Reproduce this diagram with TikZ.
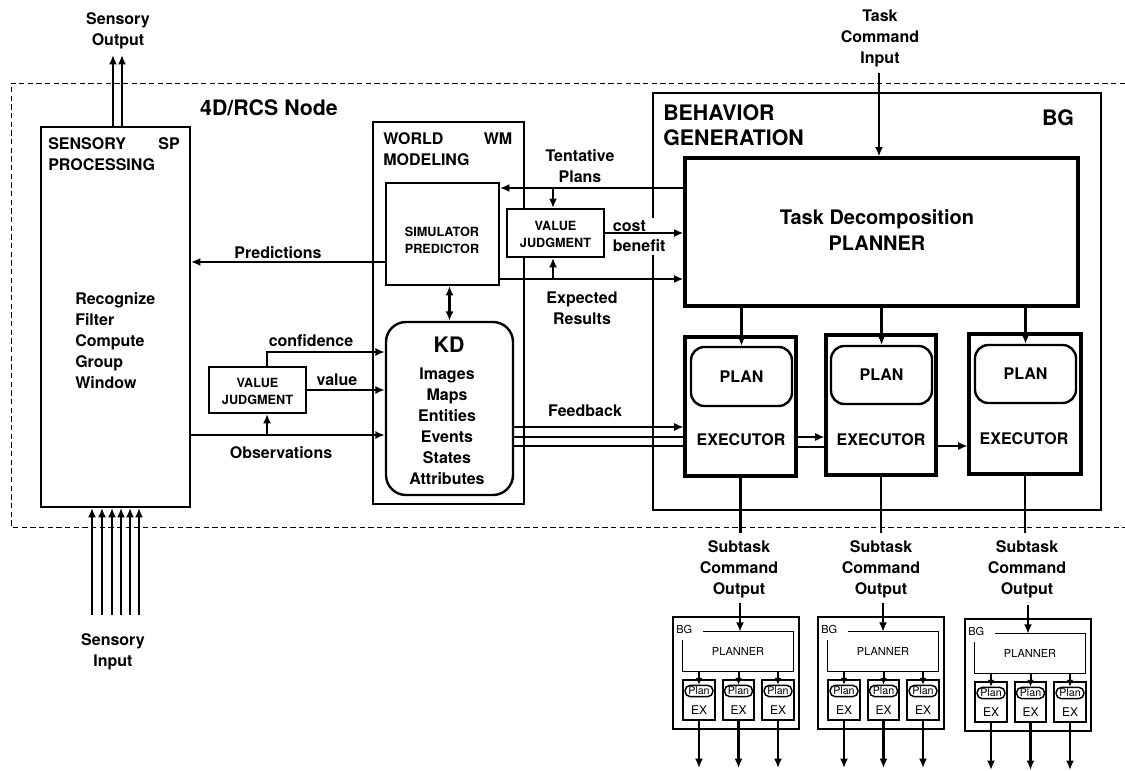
\documentclass[tikz,border=0pt]{standalone}
\usepackage{fontspec}
\setmainfont{TeX Gyre Heros}
\usetikzlibrary{arrows.meta,fit}
\newcommand\minibg[4]{%
\begin{scope}[shift={(#2,#3)}]
 \node[mbox,fit={(0,0) (126,112)}] (#1o) {};
 \node[inner sep=0pt,fit={(10,15) (120,54)}] (#1p) {};
 \node[tiny] (#1pt) at (#1p.center) {PLANNER};
 \draw[line width=1.1pt] ([xshift=15pt]#1p.north west) -- (#1p.north east) -- (#1p.south east) -- (#1p.south west) -- ([yshift=-6pt]#1p.north west);
 \node[tiny,anchor=west] (#1bg) at (3,12) {BG};
 \coordinate (#1in) at (#4,-14);
 \draw[arr] (#1in) -- (#1in |- #1p.north);
 \node[mbox,fit={(10,63) (42,103)}] (#1ea) {};
 \node[mbox,fit={(50,63) (81,103)}] (#1eb) {};
 \node[mbox,fit={(89,63) (121,103)}] (#1ec) {};
 \node[oval] (#1pa) at (26,74) {Plan};
 \node[oval] (#1pb) at (65.5,74) {Plan};
 \node[oval] (#1pc) at (105,74) {Plan};
 \node[tinyb] (#1xa) at (26,93) {EX};
 \node[tinyb] (#1xb) at (65.5,93) {EX};
 \node[tinyb] (#1xc) at (105,93) {EX};
 \draw[marr] (#1pa.north |- #1p.south) -- (#1pa.north);
 \draw[marr] (#1pb.north |- #1p.south) -- (#1pb.north);
 \draw[marr] (#1pc.north |- #1p.south) -- (#1pc.north);
 \coordinate (#1oa) at (26,151);
 \coordinate (#1ob) at (65.5,151);
 \coordinate (#1oc) at (105,151);
 \draw[arr] (#1ea.south) -- (#1oa);
 \draw[arr] (#1eb.south) -- (#1ob);
 \draw[arr] (#1ec.south) -- (#1oc);
\end{scope}}
\begin{document}
\begin{tikzpicture}[x=0.75pt,y=-0.75pt,
  lbl/.style={font=\fontsize{12}{15.75}\selectfont\bfseries,align=center,inner sep=0pt},
  lbll/.style={lbl,align=left},
  big/.style={font=\fontsize{16}{18.75}\selectfont\bfseries,align=left,inner sep=0pt},
  small/.style={font=\fontsize{9.5}{12.75}\selectfont\bfseries,align=center,inner sep=0pt},
  tiny/.style={font=\fontsize{8.25}{10}\selectfont,inner sep=0pt},
  tinyb/.style={font=\fontsize{9}{10}\selectfont,inner sep=0pt},
  box/.style={draw,line width=1.5pt,inner sep=0pt},
  tbox/.style={draw,line width=2.3pt,inner sep=0pt},
  mbox/.style={draw,line width=1.2pt,inner sep=0pt},
  rbox/.style={draw,line width=1.8pt,rounded corners=10pt,inner sep=0pt},
  oval/.style={draw,line width=1.1pt,rounded corners=4pt,minimum width=21pt,minimum height=8.5pt,inner sep=0pt,font=\fontsize{8}{9}\selectfont},
  arr/.style={line width=1.7pt,-{Latex[length=7pt,width=6pt]}},
  marr/.style={line width=1.5pt,-{Latex[length=5pt,width=5pt]}},
  tarr/.style={line width=1.1pt,-{Latex[length=7pt,width=6pt]}},
  dbl/.style={line width=1.7pt,{Latex[length=7pt,width=6pt]}-{Latex[length=7pt,width=6pt]}},
  ln/.style={line width=1.7pt},
  tln/.style={line width=1.1pt}]
\useasboundingbox (0,0) rectangle (1125,771);
% dashed node frame
\draw[line width=0.7pt,dash pattern=on 4pt off 2.5pt] (1125,83) -- (11,83) -- (11,527) -- (1125,527);
\node[big,anchor=center] (rcs) at (269,108) {4D/RCS Node};

% Sensory processing
\node[box,fit={(41,127) (190,507)}] (sp) {};
\node[lbll,anchor=west] (sptitle) at (48,154.5) {SENSORY\\PROCESSING};
\node[lbl] (spabbr) at (169,144) {SP};
\node[lbll,anchor=west] (spfun) at (75,341) {Recognize\\Filter\\Compute\\Group\\Window};
\node[lbl] (sout) at (118,30.5) {Sensory\\Output};
\node[lbl] (sin) at (113,652) {Sensory\\Input};
\coordinate (so1) at (113,55);
\coordinate (so2) at (122,55);
\draw[arr] (so1 |- sp.north) -- (so1);
\draw[arr] (so2 |- sp.north) -- (so2);
\foreach \i/\x in {1/92,2/102,3/112,4/121,5/130,6/139}{
  \coordinate (si\i) at (\x,615);
  \draw[arr] (si\i) -- (si\i |- sp.south);
}

% World modeling
\node[box,fit={(373,122) (524,504)}] (wm) {};
\node[lbll,anchor=west] (wmtitle) at (383,149.5) {WORLD\\MODELING};
\node[lbl] (wmabbr) at (498,139) {WM};
\node[box,fill=white,fit={(386,183) (499,285)}] (sim) {};
\node[small] (simtxt) at (442,240.5) {SIMULATOR\\PREDICTOR};
\node[rbox,rounded corners=15pt,fit={(386,322) (513,495)}] (kd) {};
\node[big] (kdtitle) at (449,345) {KD};
\node[lbl] (kdlist) at (447,426) {Images\\Maps\\Entities\\Events\\States\\Attributes};
\draw[dbl] (kd.north |- sim.south) -- (kd.north);

% value judgment (WM/BG)
\node[box,fill=white,fit={(507,209) (604,257)}] (vj) {};
\node[small] (vjtxt) at (555.5,234.5) {VALUE\\JUDGMENT};

% Behavior generation
\node[box,fit={(653,93) (1101,510)}] (bg) {};
\node[big,anchor=west] (bgtitle) at (663,125) {BEHAVIOR\\GENERATION};
\node[big] (bgabbr) at (1058,118) {BG};
\node[tbox,fit={(685,158) (1078,306)}] (planner) {};
\node[font=\fontsize{15}{19.5}\selectfont\bfseries,align=center,inner sep=0pt] (plantxt) at (877,230) {Task Decomposition\\PLANNER};
\node[lbl] (tcin) at (880,38.5) {Task\\Command\\Input};
\coordinate (tc) at (879,73);
\draw[arr] (tc) -- (tc |- planner.north);

% VJ labels and connectors
\node[lbl] (tent) at (580,166) {Tentative\\Plans};
\node[lbl] (expres) at (582,308) {Expected\\Results};
\node[lbll,fill=white,inner sep=2pt,anchor=west,font=\fontsize{12}{15}\selectfont\bfseries] (cb) at (610,236.5) {cost\\benefit};
\coordinate (yTent) at (0,188);
\coordinate (yExp) at (0,279);
\coordinate (xVJ) at (553,0);
\coordinate (yPred) at (0,262);
\draw[arr] (planner.west |- yTent) -- (sim.east |- yTent);
\draw[arr] (xVJ |- yTent) -- (xVJ |- vj.north);
\draw[arr] (sim.east |- yExp) -- (planner.west |- yExp);
\draw[arr] (xVJ |- yExp) -- (xVJ |- vj.south);
\draw[arr] (vj.east) -- (planner.west |- vj.east);
\node[lbl] (pred) at (278,253) {Predictions};
\draw[arr] (sim.west |- yPred) -- (sp.east |- yPred);

% value judgment (SP/WM)
\node[box,fit={(209,367) (306,413)}] (vj2) {};
\node[small] (vj2txt) at (257.5,391) {VALUE\\JUDGMENT};
\coordinate (yConf) at (0,352);
\coordinate (yObs) at (0,435);
\coordinate (xObs) at (267,0);
\draw[arr] (xObs |- vj2.north) -- (xObs |- yConf) -- (kd.west |- yConf);
\draw[arr] (vj2.east) -- (kd.west |- vj2.east);
\draw[arr] (sp.east |- yObs) -- (kd.west |- yObs);
\draw[arr] (xObs |- yObs) -- (xObs |- vj2.south);
\node[lbl] (conf) at (311,341) {confidence};
\node[lbl] (val) at (337,380) {value};
\node[lbl] (obs) at (281,453) {Observations};

% executors
\node[tbox,fit={(685,337) (796,476)}] (ex1) {};
\node[tbox,fit={(826,335) (936,475)}] (ex2) {};
\node[tbox,fit={(969,334) (1081,474)}] (ex3) {};
\node[rbox,fit={(691,347) (792,406)}] (p1) {};
\node[rbox,fit={(831,346) (932,404)}] (p2) {};
\node[rbox,fit={(975,345) (1076,403)}] (p3) {};
\node[lbl] (p1t) at (p1.center) {PLAN};
\node[lbl] (p2t) at (p2.center) {PLAN};
\node[lbl] (p3t) at (p3.center) {PLAN};
\node[lbl] (e1t) at (741,440) {EXECUTOR};
\node[lbl] (e2t) at (881,440) {EXECUTOR};
\node[lbl] (e3t) at (1024,439) {EXECUTOR};
\draw[arr] (p1.north |- planner.south) -- (p1.north);
\draw[arr] (p2.north |- planner.south) -- (p2.north);
\draw[arr] (p3.north |- planner.south) -- (p3.north);

% feedback
\coordinate (yF1) at (0,427);
\coordinate (yF2) at (0,437);
\coordinate (yF3) at (0,446);
\coordinate (yF4) at (0,447);
\draw[tarr] (kd.east |- yF1) -- (ex1.west |- yF1);
\draw[tln] (kd.east |- yF2) -- (ex1.west |- yF2);
\draw[tln] (kd.east |- yF3) -- (ex1.west |- yF3);
\node[lbl] (fb) at (585,411) {Feedback};
\draw[tarr] (ex1.east |- yF2) -- (ex2.west |- yF2);
\draw[tln] (ex1.east |- yF4) -- (ex2.west |- yF4);
\draw[tarr] (ex2.east |- yF3) -- (ex3.west |- yF3);

% subtask outputs
\coordinate (yST) at (0,533);
\draw[ln] (ex1.south) -- (ex1.south |- yST);
\draw[ln] (ex2.south) -- (ex2.south |- yST);
\draw[ln] (ex3.south) -- (ex3.south |- yST);
\node[lbl] (st1) at (739,569.5) {Subtask\\Command\\Output};
\node[lbl] (st2) at (881,569.5) {Subtask\\Command\\Output};
\node[lbl] (st3) at (1027,569.5) {Subtask\\Command\\Output};

% lower-level BG nodes
\minibg{ma}{673}{617}{67}
\minibg{mb}{818}{617}{65}
\minibg{mc}{965}{619}{63}
\end{tikzpicture}
\end{document}
